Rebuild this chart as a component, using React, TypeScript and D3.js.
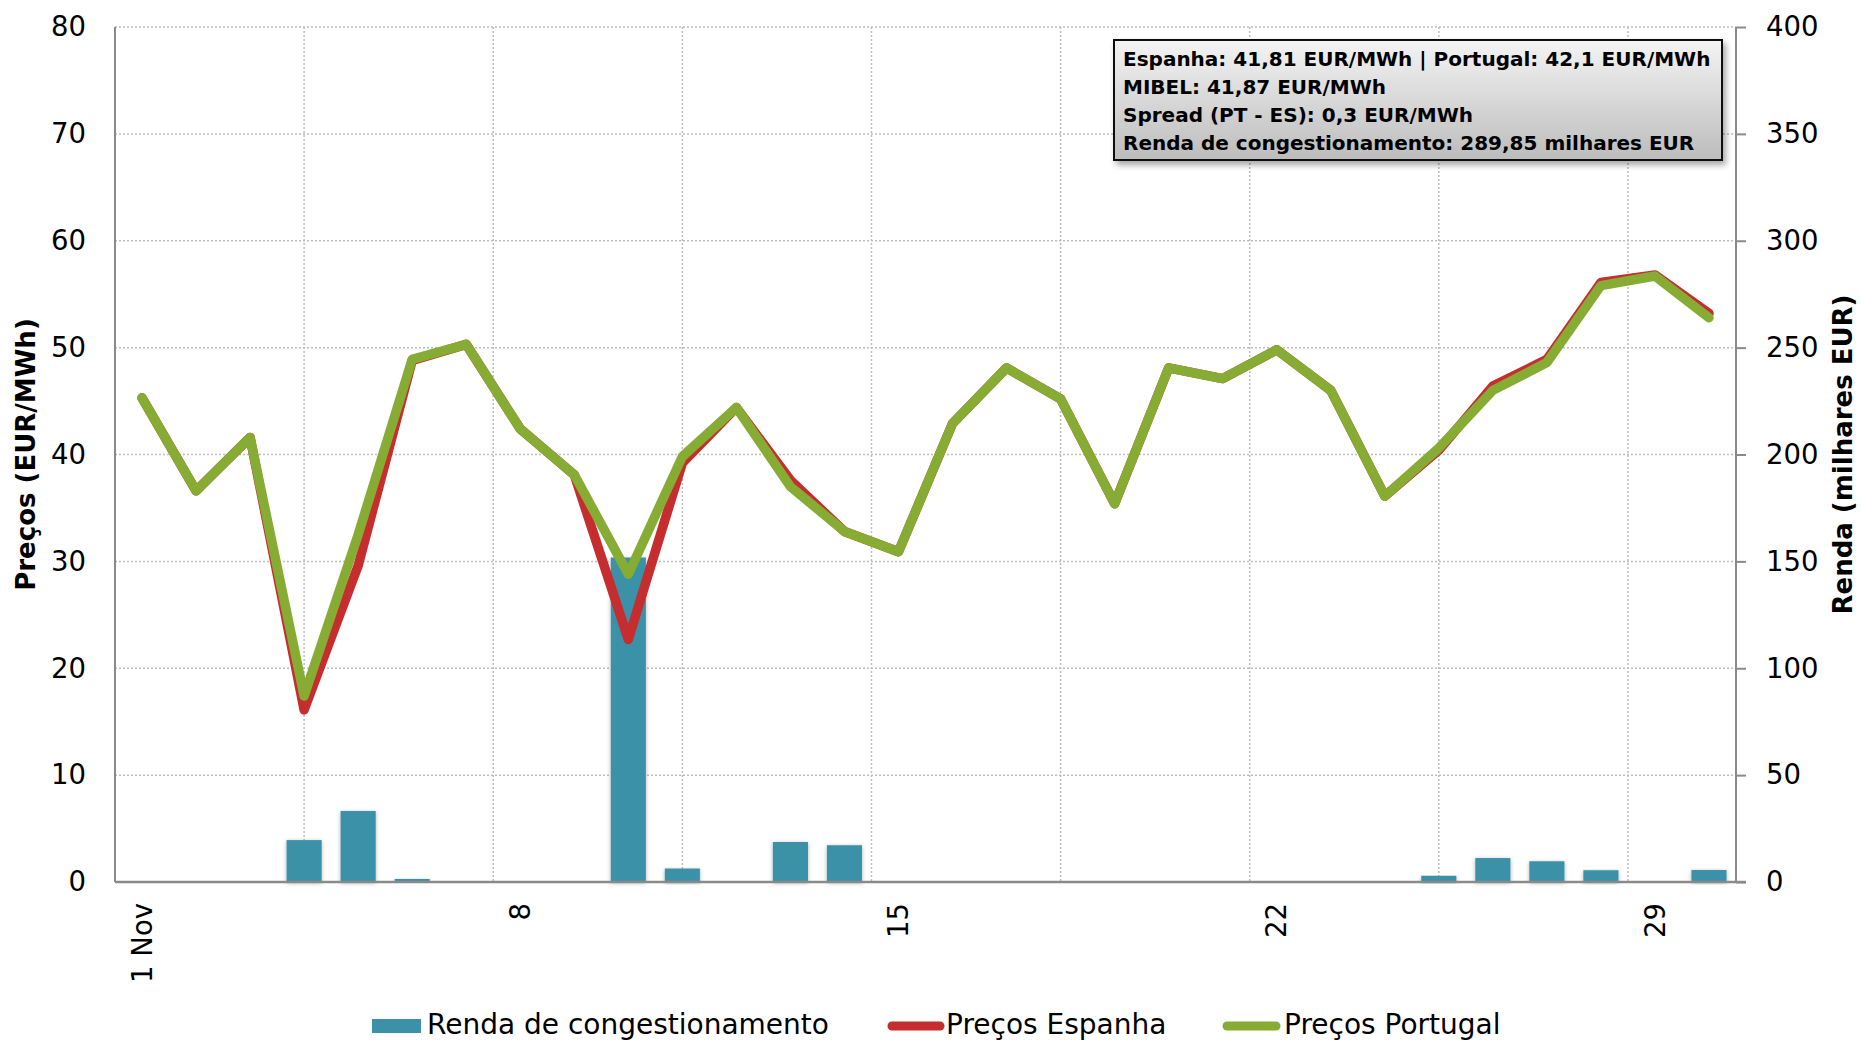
import React, { useEffect, useRef } from 'react';
import * as d3 from 'd3';

// days of November
const days = [1, 2, 3, 4, 5, 6, 7, 8, 9, 10, 11, 12, 13, 14, 15, 16, 17, 18, 19, 20, 21, 22, 23, 24, 25, 26, 27, 28, 29, 30];

// EUR/MWh, left axis
const precosEspanha = [45.3, 36.6, 41.6, 16.1, 29.6, 48.8, 50.3, 42.4, 38.1, 22.7, 39.2, 44.4, 37.6, 32.8, 30.9, 42.9, 48.1, 45.2, 35.4, 48.1, 47.1, 49.8, 46.0, 36.1, 40.4, 46.4, 48.9, 56.1, 56.8, 53.2];
const precosPortugal = [45.3, 36.6, 41.6, 17.4, 32.5, 48.9, 50.3, 42.4, 38.1, 28.8, 39.8, 44.4, 37.0, 32.8, 30.9, 42.9, 48.1, 45.2, 35.4, 48.1, 47.1, 49.8, 46.0, 36.1, 40.6, 46.0, 48.6, 55.8, 56.7, 52.8];

// milhares EUR, right axis
const rendaCongestionamento = [0, 0, 0, 19.6, 33.2, 1.4, 0, 0, 0, 151.8, 6.3, 0, 18.7, 17.2, 0, 0, 0, 0, 0, 0, 0, 0, 0, 0, 2.9, 11.2, 9.7, 5.5, 0, 5.6];

const tickDays = [1, 8, 15, 22, 29];
const tickLabels = ['1 Nov', '8', '15', '22', '29'];

const infoLines = [
  'Espanha: 41,81 EUR/MWh | Portugal: 42,1 EUR/MWh',
  'MIBEL: 41,87 EUR/MWh',
  'Spread (PT - ES): 0,3 EUR/MWh',
  'Renda de congestionamento: 289,85 milhares EUR',
];

const legendLabels = ['Renda de congestionamento', 'Preços Espanha', 'Preços Portugal'];

const W = 1862;
const H = 1043;
const FONT = '"DejaVu Sans", Verdana, sans-serif';

const colors = {
  bar: '#3a91a8',
  espanha: '#c62d2f',
  portugal: '#86ac34',
  grid: '#bdbdbd',
  axis: '#8a8a8a',
};

export default function App() {
  const ref = useRef<SVGSVGElement>(null);

  useEffect(() => {
    const svg = d3.select(ref.current);
    svg.selectAll('*').remove();

    const left = 115;
    const right = 1736;
    const top = 27;
    const bottom = 882;

    const defs = svg.append('defs');
    defs.append('filter').attr('id', 'barShadow')
      .attr('x', '-30%').attr('y', '-10%').attr('width', '160%').attr('height', '130%')
      .append('feDropShadow')
      .attr('dx', 0).attr('dy', 1).attr('stdDeviation', 2)
      .attr('flood-color', '#000').attr('flood-opacity', 0.3);
    defs.append('filter').attr('id', 'boxShadow')
      .attr('x', '-5%').attr('y', '-10%').attr('width', '115%').attr('height', '130%')
      .append('feDropShadow')
      .attr('dx', 3).attr('dy', 4).attr('stdDeviation', 3)
      .attr('flood-color', '#000').attr('flood-opacity', 0.35);
    const grad = defs.append('linearGradient').attr('id', 'boxGrad')
      .attr('x1', 0).attr('y1', 0).attr('x2', 0).attr('y2', 1);
    grad.append('stop').attr('offset', '0%').attr('stop-color', '#f4f4f4');
    grad.append('stop').attr('offset', '100%').attr('stop-color', '#bcbcbc');

    const x = d3.scaleLinear().domain([0.5, 30.5]).range([left, right]);
    const xBand = d3.scaleBand<number>().domain(days).range([left, right])
      .paddingInner(0.35).paddingOuter(0.175);
    const yL = d3.scaleLinear().domain([0, 80]).range([bottom, top]);
    const yR = d3.scaleLinear().domain([0, 400]).range([bottom, top]);

    // gridlines
    const grid = svg.append('g');
    grid.selectAll('line.h')
      .data(yL.ticks(8).filter(d => d > 0))
      .enter().append('line')
      .attr('x1', left).attr('x2', right)
      .attr('y1', d => yL(d)).attr('y2', d => yL(d))
      .attr('stroke', colors.grid).attr('stroke-width', 1.5)
      .attr('stroke-dasharray', '2,2');
    grid.selectAll('line.v')
      .data(d3.range(4, 30, 3.5))
      .enter().append('line')
      .attr('x1', d => x(d)).attr('x2', d => x(d))
      .attr('y1', top).attr('y2', bottom)
      .attr('stroke', colors.grid).attr('stroke-width', 1.5)
      .attr('stroke-dasharray', '2,2');

    // bars
    svg.append('g').selectAll('rect')
      .data(days.filter((_, i) => rendaCongestionamento[i] > 0))
      .enter().append('rect')
      .attr('x', d => xBand(d) as number)
      .attr('width', xBand.bandwidth())
      .attr('y', d => yR(rendaCongestionamento[d - 1]))
      .attr('height', d => bottom - yR(rendaCongestionamento[d - 1]))
      .attr('fill', colors.bar)
      .attr('filter', 'url(#barShadow)');

    // axes
    svg.append('line')
      .attr('x1', left).attr('x2', left).attr('y1', top).attr('y2', bottom)
      .attr('stroke', colors.axis).attr('stroke-width', 2);
    svg.append('line')
      .attr('x1', right).attr('x2', right).attr('y1', top).attr('y2', bottom)
      .attr('stroke', colors.axis).attr('stroke-width', 2);

    const leftAxis = svg.append('g')
      .attr('transform', `translate(${left},0)`)
      .call(d3.axisLeft(yL).ticks(8).tickSize(0).tickPadding(29));
    leftAxis.select('.domain').remove();

    const rightAxis = svg.append('g')
      .attr('transform', `translate(${right},0)`)
      .call(d3.axisRight(yR).ticks(8).tickSize(10).tickPadding(20));
    rightAxis.select('.domain').remove();
    rightAxis.selectAll('line').attr('stroke', colors.axis).attr('stroke-width', 2);

    [leftAxis, rightAxis].forEach(a => {
      a.selectAll('text')
        .attr('font-family', FONT).attr('font-size', 27.5).attr('fill', '#000');
    });

    svg.append('line')
      .attr('x1', left).attr('x2', right + 10).attr('y1', bottom).attr('y2', bottom)
      .attr('stroke', colors.axis).attr('stroke-width', 2.5);

    svg.append('g').selectAll('text')
      .data(tickDays)
      .enter().append('text')
      .attr('transform', d => `translate(${x(d)},${bottom + 21}) rotate(-90)`)
      .attr('text-anchor', 'end')
      .attr('dy', '0.35em')
      .attr('font-family', FONT).attr('font-size', 27.5)
      .text((_, i) => tickLabels[i]);

    // axis titles
    svg.append('text')
      .attr('transform', `translate(26,${(top + bottom) / 2}) rotate(-90)`)
      .attr('text-anchor', 'middle').attr('dy', '0.35em')
      .attr('font-family', FONT).attr('font-size', 26).attr('font-weight', 'bold')
      .text('Preços (EUR/MWh)');
    svg.append('text')
      .attr('transform', `translate(1843,${(top + bottom) / 2}) rotate(-90)`)
      .attr('text-anchor', 'middle').attr('dy', '0.35em')
      .attr('font-family', FONT).attr('font-size', 26).attr('font-weight', 'bold')
      .text('Renda (milhares EUR)');

    // price lines
    const line = d3.line<number>()
      .x((_, i) => x(days[i]))
      .y(d => yL(d));
    [[precosEspanha, colors.espanha], [precosPortugal, colors.portugal]].forEach(([data, color]) => {
      svg.append('path')
        .datum(data as number[])
        .attr('d', line)
        .attr('fill', 'none')
        .attr('stroke', color as string)
        .attr('stroke-width', 9.5)
        .attr('stroke-linejoin', 'round')
        .attr('stroke-linecap', 'round');
    });

    // info box
    const box = svg.append('g');
    box.append('rect')
      .attr('x', 1114).attr('y', 40).attr('width', 608).attr('height', 120)
      .attr('fill', 'url(#boxGrad)').attr('stroke', '#111').attr('stroke-width', 2)
      .attr('filter', 'url(#boxShadow)');
    box.selectAll('text')
      .data(infoLines)
      .enter().append('text')
      .attr('x', 1123)
      .attr('y', (_, i) => 66 + i * 28)
      .attr('font-family', FONT).attr('font-size', 20).attr('font-weight', 'bold')
      .attr('fill', '#000')
      .text(d => d);

    // legend
    const legend = svg.append('g').attr('font-family', FONT).attr('font-size', 28);
    const ly = 1026;
    legend.append('rect')
      .attr('x', 372).attr('y', ly - 7).attr('width', 49).attr('height', 14)
      .attr('fill', colors.bar);
    legend.append('line')
      .attr('x1', 892).attr('x2', 940).attr('y1', ly).attr('y2', ly)
      .attr('stroke', colors.espanha).attr('stroke-width', 9).attr('stroke-linecap', 'round');
    legend.append('line')
      .attr('x1', 1227).attr('x2', 1276).attr('y1', ly).attr('y2', ly)
      .attr('stroke', colors.portugal).attr('stroke-width', 9).attr('stroke-linecap', 'round');
    const legendX = [427, 946, 1284];
    legend.selectAll('text')
      .data(legendLabels)
      .enter().append('text')
      .attr('x', (_, i) => legendX[i])
      .attr('y', ly + 8)
      .attr('fill', '#000')
      .text(d => d);
  }, []);

  return (
    <svg
      ref={ref}
      width={W}
      height={H}
      style={{ position: 'absolute', left: 0, top: 0, background: '#fff' }}
    />
  );
}
